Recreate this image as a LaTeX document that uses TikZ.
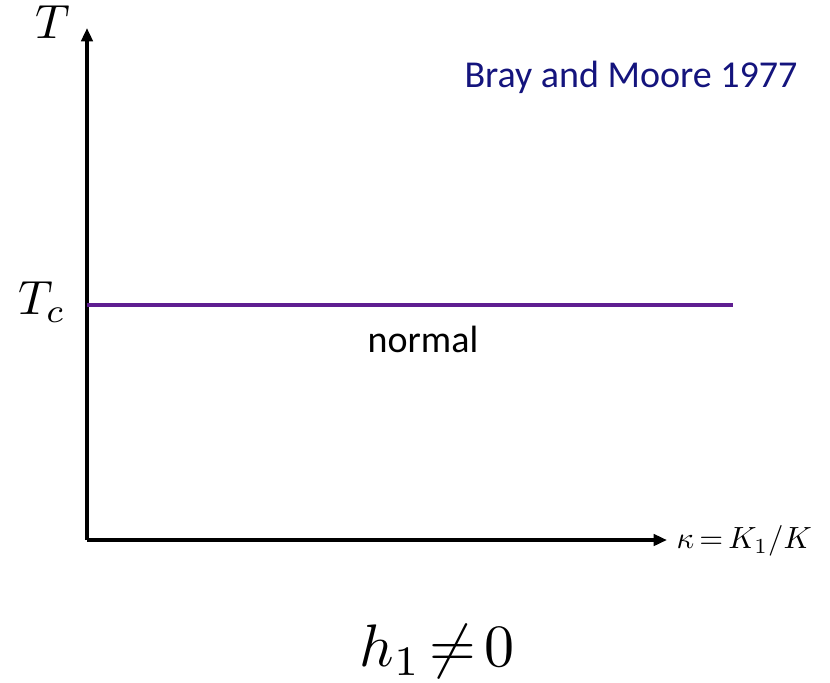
\documentclass[tikz,border=0pt]{standalone}
\usepackage{amsmath}
\usepackage{graphicx}
\usepackage[no-math]{fontspec}
\setmainfont{Carlito}
\usetikzlibrary{arrows.meta}
\definecolor{navy}{RGB}{20,20,125}
\definecolor{tcpurple}{RGB}{95,30,145}
\begin{document}
\begin{tikzpicture}[x=0.75pt,y=-0.75pt,
  axis/.style={line width=3.4pt*0.75, -{Triangle[length=10pt,width=8.5pt]}}]
\useasboundingbox (0,0) rectangle (830,682);
\coordinate (o) at (87,540);
\coordinate (ytip) at (87,28);
\coordinate (xtip) at (667,540);
\draw[axis] (o) -- (ytip);
\draw[axis] (o) -- (xtip);
\coordinate (tcl) at (87,305);
\coordinate (tcr) at (733,305);
\draw[tcpurple, line width=3.2pt*0.75] (tcl) -- (tcr);
\node[inner sep=0pt] (T) at (53,22) {\scalebox{3.6}{$T$}};
\node[inner sep=0pt] (Tc) at (42,302) {\scalebox{3.6}{$T_c$}};
\node[inner sep=0pt, anchor=east] (kappa) at (812,541) {\scalebox{2.3}{$\thickmuskip=3mu \kappa = K_1/K$}};
\node[inner sep=0pt] (h) at (437,651) {\scalebox{4.5}{$\thickmuskip=2.5mu h_1 \neq 0$}};
\node[inner sep=0pt, text=navy] (bray) at (631,77) {\fontsize{28.5}{32}\selectfont Bray and Moore 1977};
\node[inner sep=0pt] (normal) at (423,339) {\fontsize{28.5}{32}\selectfont normal};
\end{tikzpicture}
\end{document}
